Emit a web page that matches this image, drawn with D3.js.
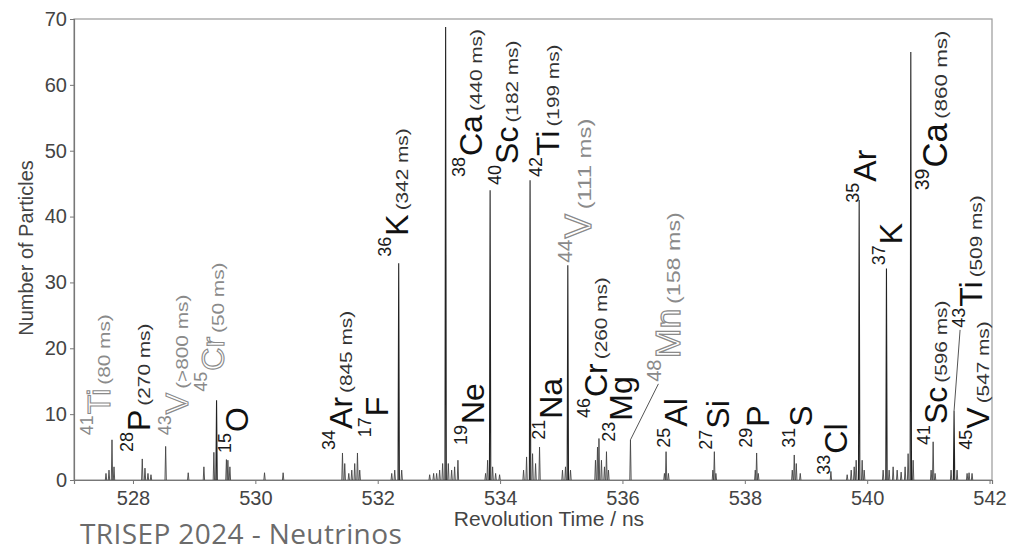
<!DOCTYPE html>
<html>
<head>
<meta charset="utf-8">
<script src="https://cdn.jsdelivr.net/npm/d3@7"></script>
<style>
html, body { margin: 0; padding: 0; background: #fff; }
svg { display: block; font-family: "Liberation Sans", Arial, sans-serif; }
</style>
</head>
<body>
<div id="chart"></div>
<script>
// axis ticks
const xTicks = [528, 530, 532, 534, 536, 538, 540, 542];
const yTicks = [0, 10, 20, 30, 40, 50, 60, 70];

// peaks (revolution time in ns, counts)
const peakTime = [
  527.559, 527.608, 527.657, 527.690, 528.152, 528.196, 528.245, 528.294, 528.534, 528.903,
  529.159, 529.322, 529.366, 529.527, 529.551, 529.584, 530.150, 530.454,
  531.424, 531.461, 531.527, 531.576, 531.624, 531.669, 531.706,
  532.229, 532.278, 532.343, 532.392,
  532.849, 532.914, 532.963, 533.012, 533.061, 533.110, 533.154, 533.208, 533.257, 533.311,
  533.763, 533.796, 533.837, 533.878, 533.927, 533.992,
  534.384, 534.433, 534.490, 534.531, 534.580, 534.645,
  535.020, 535.069, 535.107, 535.151,
  535.559, 535.592, 535.616, 535.657, 535.706, 535.739, 535.771,
  536.131, 536.686, 536.713, 536.751, 537.478, 537.502, 537.527,
  538.171, 538.193, 538.220, 538.776, 538.808, 538.841, 538.906, 539.407,
  539.673, 539.739, 539.788, 539.820, 539.869, 539.918, 539.951,
  540.261, 540.315, 540.359, 540.424, 540.490, 540.555, 540.620, 540.669, 540.713, 540.751,
  541.045, 541.078, 541.110, 541.371, 541.420, 541.469, 541.633, 541.665, 541.714
];
const peakCount = [
  1.0, 1.5, 6.1, 2.0, 3.2, 1.8, 1.0, 0.8, 5.1, 1.1,
  2.0, 4.2, 12.1, 3.1, 3.0, 2.0, 1.1, 1.1,
  4.1, 2.5, 1.0, 1.5, 2.5, 4.1, 1.5,
  1.0, 1.5, 32.9, 1.5,
  0.8, 1.0, 1.0, 1.5, 2.5, 68.8, 2.5, 1.5, 2.0, 3.0,
  1.0, 3.0, 44.0, 2.0, 1.0, 0.8,
  1.5, 3.5, 45.5, 4.0, 2.5, 5.0,
  1.5, 2.0, 32.6, 1.5,
  3.0, 5.0, 6.3, 3.0, 2.0, 4.3, 1.5,
  6.1, 1.0, 4.3, 1.0, 1.5, 4.3, 1.0,
  1.5, 4.1, 1.0, 1.5, 3.8, 2.5, 1.0, 1.3,
  0.8, 1.5, 2.0, 3.0, 42.5, 3.0, 1.5,
  1.5, 32.1, 1.5, 2.0, 1.5, 1.2, 2.0, 4.0, 65.0, 3.0,
  1.5, 5.8, 1.0, 1.5, 10.5, 1.5, 1.0, 1.1, 1.0
];

// nuclide labels
const labelMass = ["41", "28", "43", "45", "15", "34", "17", "36", "38", "40", "42", "44", "19", "21",
  "46", "23", "48", "25", "27", "29", "31", "33", "35", "37", "39", "41", "43", "45"];
const labelSymbol = ["Ti", "P", "V", "Cr", "O", "Ar", "F", "K", "Ca", "Sc", "Ti", "V", "Ne", "Na",
  "Cr", "Mg", "Mn", "Al", "Si", "P", "S", "Cl", "Ar", "K", "Ca", "Sc", "Ti", "V"];
const labelHalfLife = ["(80 ms)", "(270 ms)", "(>800 ms)", "(50 ms)", "", "(845 ms)", "", "(342 ms)",
  "(440 ms)", "(182 ms)", "(199 ms)", "(111 ms)", "", "", "(260 ms)", "", "(158 ms)", "", "", "",
  "", "", "", "", "(860 ms)", "(596 ms)", "(509 ms)", "(547 ms)"];
const labelTentative = [true, false, true, true, false, false, false, false, false, false, false, true,
  false, false, false, false, true, false, false, false, false, false, false, false, false, false, false, false];
// where each label starts (time, count)
const labelTime = [527.625, 528.278, 528.898, 529.486, 529.878, 531.576, 532.163, 532.490, 533.698,
  534.286, 534.971, 535.494, 533.731, 535.020, 535.755, 536.163, 536.947, 537.061, 537.747, 538.400,
  539.102, 539.673, 540.147, 540.571, 541.306, 541.306, 541.878, 541.992];
const labelCount = [6.8, 4.25, 6.8, 13.4, 4.1, 4.56, 6.5, 33.9, 46.0, 44.8, 46.0, 33.0, 5.3, 6.1,
  9.4, 5.8, 14.9, 4.9, 4.6, 4.9, 4.9, 0.8, 42.1, 32.6, 44.0, 5.3, 23.1, 4.6];

// leader lines: label index -> peak
const leaderLabel = [16, 26];
const leaderTime = [536.131, 541.420];
const leaderCount = [6.1, 10.5];

const W = 1013, H = 553;
const svg = d3.select("#chart").append("svg")
  .attr("width", W)
  .attr("height", H);

const x = d3.scaleLinear().domain([527.036, 542.04]).range([74, 992]);
const y = d3.scaleLinear().domain([0, 70]).range([480, 19]);

// frame
svg.append("rect")
  .attr("x", x.range()[0]).attr("y", y.range()[1])
  .attr("width", x.range()[1] - x.range()[0])
  .attr("height", y.range()[0] - y.range()[1])
  .attr("fill", "none")
  .attr("stroke", "#9a9a9a")
  .attr("stroke-width", 1.2);

// axes
const xAxis = svg.append("g")
  .attr("transform", `translate(0,${y(0)})`)
  .call(d3.axisBottom(x).tickValues(xTicks).tickSize(4).tickPadding(7).tickFormat(d3.format("d")));
const yAxis = svg.append("g")
  .attr("transform", `translate(${x.range()[0]},0)`)
  .call(d3.axisLeft(y).tickValues(yTicks).tickSize(4).tickPadding(3));
[xAxis, yAxis].forEach(a => {
  a.select(".domain").attr("stroke", "#777").attr("stroke-width", 1.2);
  a.selectAll(".tick line").attr("stroke", "#777");
  a.selectAll(".tick text")
    .attr("fill", "#444")
    .style("font-size", "20px")
    .style("font-family", "Liberation Sans, Arial, sans-serif");
});

// axis titles
svg.append("text")
  .attr("x", 549)
  .attr("y", 526)
  .attr("text-anchor", "middle")
  .attr("fill", "#444")
  .style("font-size", "21px")
  .text("Revolution Time / ns");

svg.append("text")
  .attr("transform", "translate(33,248) rotate(-90)")
  .attr("text-anchor", "middle")
  .attr("fill", "#444")
  .style("font-size", "20px")
  .text("Number of Particles");

// spectrum: every peak drawn as a narrow spike
const halfWidth = 0.011;
const peaks = peakTime.map((t, i) => ({ t: t, c: peakCount[i] }));
svg.append("g")
  .selectAll("path")
  .data(peaks)
  .enter()
  .append("path")
    .attr("d", d => `M${x(d.t - halfWidth)},${y(0)}L${x(d.t)},${y(d.c)}L${x(d.t + halfWidth)},${y(0)}`)
    .attr("fill", "none")
    .attr("stroke", d => d.c > 8 ? "#222" : "#444")
    .attr("stroke-width", d => d.c > 8 ? 1.1 : 0.9);

// labels
const labels = labelMass.map((m, i) => ({
  mass: m, sym: labelSymbol[i], hl: labelHalfLife[i], gray: labelTentative[i],
  t: labelTime[i], c: labelCount[i]
}));
// a few labels are printed larger in the figure
const labelScale = { 11: 1.15, 16: 1.12, 24: 1.08 };
const massSize = 18, symSize = 32, hlSize = 16, hlStretch = 1.3, raise = 17;

const lg = svg.append("g")
  .selectAll("g")
  .data(labels)
  .enter()
  .append("g")
    .attr("transform", (d, i) => `translate(${x(d.t)},${y(d.c)}) rotate(-90) scale(${labelScale[i] || 1})`);

lg.each(function(d) {
  const g = d3.select(this);
  const ink = d.gray ? "#8a8a8a" : "#1a1a1a";
  const m = g.append("text")
    .attr("y", -raise)
    .attr("fill", ink)
    .style("font-size", massSize + "px")
    .text(d.mass);
  const mLen = m.node().getComputedTextLength();
  const s = g.append("text")
    .attr("x", mLen + 1)
    .style("font-size", symSize + "px")
    .text(d.sym);
  if (d.gray) {
    s.attr("fill", "#fff").attr("stroke", "#8a8a8a").attr("stroke-width", 1.1);
  } else {
    s.attr("fill", "#111");
  }
  const sLen = s.node().getComputedTextLength();
  if (d.hl) {
    g.append("text")
      .attr("transform", `translate(${mLen + 1 + sLen + 4},0) scale(${hlStretch},1)`)
      .attr("fill", d.gray ? "#8a8a8a" : "#333")
      .style("font-size", hlSize + "px")
      .text(d.hl);
  }
});

// leader lines
svg.append("g")
  .selectAll("line")
  .data(leaderLabel)
  .enter()
  .append("line")
    .attr("x1", (d, i) => x(leaderTime[i]))
    .attr("y1", (d, i) => y(leaderCount[i]))
    .attr("x2", d => x(labelTime[d]) - raise - 5)
    .attr("y2", d => y(labelCount[d]) + 2)
    .attr("stroke", "#555")
    .attr("stroke-width", 1);

// footer
svg.append("text")
  .attr("x", 80)
  .attr("y", 544)
  .attr("fill", "#6b6b6b")
  .style("font-family", "'Open Sans', 'Liberation Sans', sans-serif")
  .style("font-size", "28px")
  .style("letter-spacing", "0.4px")
  .text("TRISEP 2024 - Neutrinos");
</script>
</body>
</html>
